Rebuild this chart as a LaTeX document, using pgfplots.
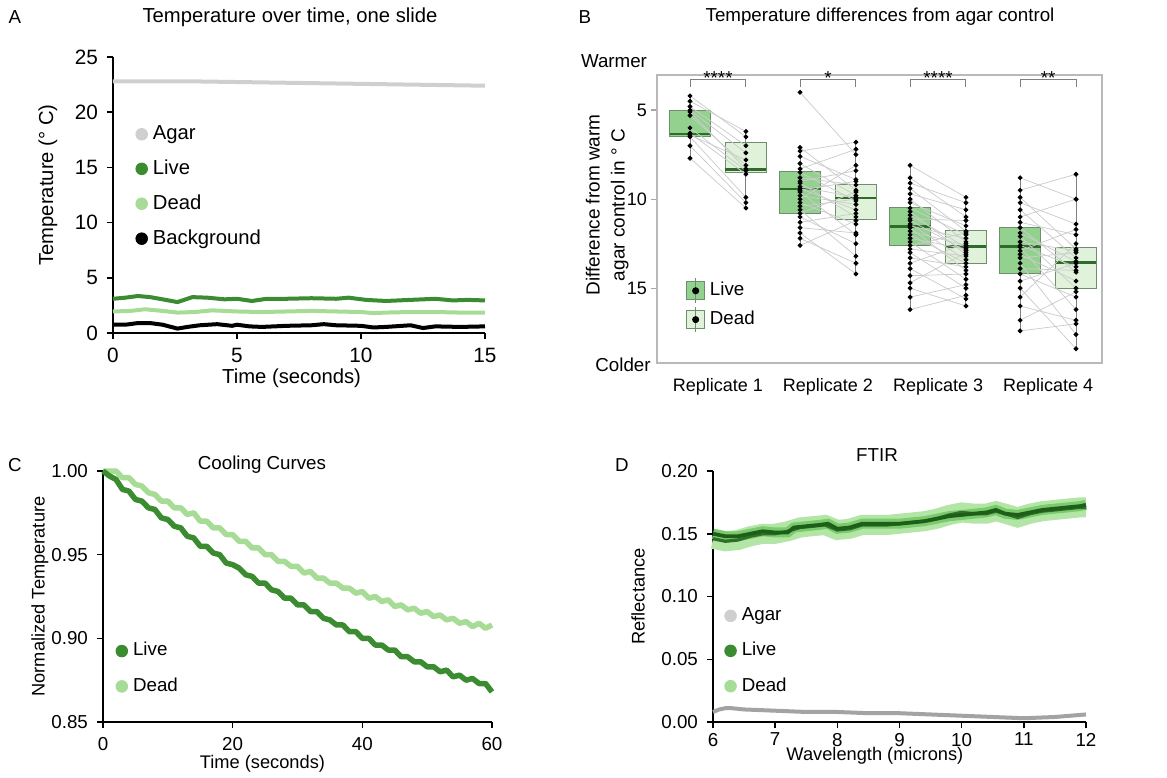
\documentclass[border=0pt]{standalone}
\usepackage{fontspec}
\setmainfont{Liberation Sans}
\usepackage{pgfplots}
\usepackage{pgfplotstable}
\pgfplotsset{compat=1.18}
\usepgfplotslibrary{statistics}

\definecolor{agar}{HTML}{CFCFCF}
\definecolor{agardark}{HTML}{A3A3A3}
\definecolor{live}{HTML}{3B8C30}
\definecolor{dead}{HTML}{A6DC95}
\definecolor{livebox}{HTML}{92D28E}
\definecolor{deadbox}{HTML}{E0F2DA}
\definecolor{boxedge}{HTML}{6E8F6B}
\definecolor{medgreen}{HTML}{2F6B2A}
\definecolor{ftirlive}{HTML}{1F5E1A}
\definecolor{ftirdead}{HTML}{B3E6A6}
\definecolor{ftirband}{HTML}{7ACB6C}

\newcommand{\sz}{\fontsize{7.5}{9}\selectfont}
\newcommand{\szb}{\fontsize{8.1}{9.7}\selectfont}
\newcommand{\szs}{\fontsize{7.2}{8.6}\selectfont}

\pgfplotsset{
  panel/.style={
    scale only axis, anchor=south west, clip=false,
    axis lines*=left, axis line style={black, line width=0.6pt, -},
    tick align=outside, tick pos=left,
    tick style={black, line width=0.6pt}, major tick length=2.5pt,
    ticklabel style={font=\sz},
    /pgf/number format/assume math mode=true,
    legend style={draw=none, fill=none, font=\sz, legend cell align=left,
      row sep=3.2pt, inner sep=0pt},
  },
  dotleg/.style={legend image code/.code={\fill[#1] (3pt,0pt) circle (2.3pt);}},
}

% paired temperatures per replicate (live, dead)
\pgfplotstableread{
r l d
1 4.2 6.5
1 4.5 6.2
1 4.8 7.0
1 5.0 7.4
1 5.1 8.3
1 5.3 8.1
1 6.0 8.4
1 6.3 8.6
1 6.4 7.8
1 6.5 9.9
1 7.0 10.2
1 7.7 10.5
2 4.0 7.5
2 7.1 9.5
2 7.3 6.8
2 7.6 8.9
2 8.0 9.8
2 8.3 7.2
2 8.5 10.1
2 8.8 9.2
2 9.0 8.4
2 9.1 11.0
2 9.3 9.9
2 9.4 10.6
2 9.5 9.0
2 9.6 12.0
2 9.8 10.3
2 10.0 8.1
2 10.2 11.4
2 10.4 10.0
2 10.6 13.2
2 10.8 9.6
2 11.0 12.5
2 11.3 10.8
2 11.6 11.9
2 11.9 14.2
2 12.2 13.6
2 12.6 11.2
3 8.1 9.9
3 8.8 11.0
3 9.1 10.2
3 9.4 11.8
3 9.7 10.6
3 10.0 12.4
3 10.2 11.5
3 10.5 12.0
3 10.7 13.1
3 10.9 12.7
3 11.1 11.2
3 11.2 12.9
3 11.4 13.4
3 11.5 12.2
3 11.6 14.0
3 11.8 12.6
3 12.0 13.6
3 12.2 12.8
3 12.4 14.5
3 12.6 11.9
3 12.8 13.2
3 13.0 15.0
3 13.3 13.8
3 13.6 12.5
3 13.9 15.6
3 14.3 14.2
3 14.7 13.0
3 15.0 16.0
3 15.5 14.8
3 16.2 15.4
4 8.8 10.0
4 9.5 8.6
4 9.9 12.8
4 10.2 11.4
4 10.6 13.3
4 11.0 10.0
4 11.3 12.0
4 11.6 14.1
4 11.9 13.5
4 12.1 15.0
4 12.4 12.9
4 12.6 13.8
4 12.7 16.2
4 12.9 11.7
4 13.1 14.6
4 13.3 13.0
4 13.6 17.6
4 13.9 14.0
4 14.2 15.5
4 14.6 13.6
4 15.0 18.4
4 15.5 12.5
4 16.0 16.8
4 16.8 15.2
4 17.4 17.0
}\pairs

\begin{document}
\begin{tikzpicture}
\useasboundingbox (0pt,0pt) rectangle (466.8pt,311.2pt);

% ---------------- A ----------------
\begin{axis}[panel, at={(45.2pt,178pt)}, width=148.8pt, height=110.4pt,
  xmin=0, xmax=15, ymin=0, ymax=25,
  xtick={0,5,10,15}, ytick={0,5,10,15,20,25},
  ticklabel style={font=\fontsize{8.3}{10}\selectfont},
  xlabel={Time (seconds)}, ylabel={Temperature (° C)},
  every axis x label/.style={at={(axis description cs:0.48,-0.165)}, anchor=center, font=\szb},
  every axis y label/.style={at={(axis description cs:-0.175,0.536)}, rotate=90, anchor=center, font=\szb},
  legend style={at={(0.059,0.772)}, anchor=north west, font=\szb, row sep=2.6pt},
]
\addlegendimage{dotleg=agar}\addlegendentry{Agar}
\addlegendimage{dotleg=live}\addlegendentry{Live}
\addlegendimage{dotleg=dead}\addlegendentry{Dead}
\addlegendimage{dotleg=black}\addlegendentry{Background}
\addplot[agar, line width=1.6pt] coordinates {(0,22.8)(3,22.8)(6,22.7)(9,22.6)(12,22.5)(15,22.4)};
\addplot[dead, line width=1.6pt] coordinates {(0,1.95)(0.7,2.0)(1.3,2.15)(2,2.0)(2.6,1.85)(3.3,1.9)(4,2.05)(5,1.95)(6,1.9)(7,1.95)(8,2.0)(9,1.95)(10,1.9)(10.5,1.8)(11,1.85)(12,1.9)(13,1.9)(14,1.85)(15,1.85)};
\addplot[live, line width=1.6pt] coordinates {(0,3.1)(0.5,3.2)(1,3.35)(1.5,3.25)(2,3.05)(2.6,2.8)(3.2,3.25)(3.8,3.2)(4.5,3.05)(5,3.1)(5.6,2.9)(6.2,3.1)(7,3.1)(8,3.15)(9,3.1)(9.5,3.2)(10.2,3.0)(11,2.9)(12,3.0)(13,3.1)(13.7,2.95)(14.3,3.0)(15,2.95)};
\addplot[black, line width=1.6pt] coordinates {(0,0.75)(0.5,0.75)(1,0.9)(1.5,0.9)(2,0.75)(2.6,0.4)(3,0.55)(3.5,0.7)(4.2,0.8)(4.8,0.65)(5,0.75)(5.5,0.6)(6,0.55)(7,0.65)(8,0.7)(8.5,0.8)(9,0.7)(10,0.65)(10.5,0.5)(11,0.55)(12,0.7)(12.5,0.45)(13,0.6)(14,0.55)(15,0.6)};
\end{axis}

% ---------------- B ----------------
\begin{axis}[panel, at={(262.8pt,166pt)}, width=178pt, height=115.2pt,
  axis lines*=box, axis line style={gray!55, line width=0.5pt},
  xmin=0.446, xmax=4.49, ymin=3.03, ymax=19.2, y dir=reverse,
  xtick={1,2,3,4}, xticklabels={Replicate 1,Replicate 2,Replicate 3,Replicate 4},
  ticklabel style={font=\szs},
  major x tick style={draw=none},
  extra x ticks={0.746,1.254,1.746,2.254,2.746,3.254,3.746,4.254},
  extra x tick labels={}, extra x tick style={tick style={gray!70, line width=0.5pt}},
  ytick={5,10,15}, tick style={gray!70, line width=0.5pt},
  yticklabel style={xshift=2pt},
  ylabel={Difference from warm\\agar control in ° C},
  every axis y label/.style={at={(axis description cs:-0.112,0.549)}, rotate=90, anchor=center, align=center, font=\fontsize{7.6}{10}\selectfont},
  boxplot/draw direction=y, boxplot/whisker extend=0,
  boxplot/every whisker/.style={gray, line width=0.4pt},
  boxplot/every median/.style={medgreen, line width=0.9pt},
  legend style={at={(0.065,0.30)}, anchor=north west, row sep=0.6pt},
]
\addlegendimage{legend image code/.code={\draw[boxedge, fill=livebox] (0pt,-3.6pt) rectangle (7pt,3.6pt); \draw[boxedge] (3.5pt,-5pt)--(3.5pt,5pt); \fill (3.5pt,0pt) circle (1.2pt);}}\addlegendentry{Live}
\addlegendimage{legend image code/.code={\draw[boxedge, fill=deadbox] (0pt,-3.6pt) rectangle (7pt,3.6pt); \draw[boxedge] (3.5pt,-5pt)--(3.5pt,5pt); \fill (3.5pt,0pt) circle (1.2pt);}}\addlegendentry{Dead}
\addplot[boxplot prepared={draw position=0.746, box extend=0.372, lower whisker=4.16, lower quartile=5.0, median=6.36, upper quartile=6.5, upper whisker=7.7}, draw=boxedge, fill=livebox] coordinates {};
\addplot[boxplot prepared={draw position=1.254, box extend=0.372, lower whisker=6.2, lower quartile=6.81, median=8.33, upper quartile=8.51, upper whisker=10.5}, draw=boxedge, fill=deadbox] coordinates {};
\addplot[boxplot prepared={draw position=1.746, box extend=0.372, lower whisker=7.06, lower quartile=8.42, median=9.45, upper quartile=10.83, upper whisker=12.66}, draw=boxedge, fill=livebox] coordinates {};
\addplot[boxplot prepared={draw position=2.254, box extend=0.372, lower whisker=6.78, lower quartile=9.15, median=9.95, upper quartile=11.13, upper whisker=14.2}, draw=boxedge, fill=deadbox] coordinates {};
\addplot[boxplot prepared={draw position=2.746, box extend=0.372, lower whisker=8.08, lower quartile=10.46, median=11.54, upper quartile=12.63, upper whisker=16.18}, draw=boxedge, fill=livebox] coordinates {};
\addplot[boxplot prepared={draw position=3.254, box extend=0.372, lower whisker=9.9, lower quartile=11.77, median=12.66, upper quartile=13.6, upper whisker=15.99}, draw=boxedge, fill=deadbox] coordinates {};
\addplot[boxplot prepared={draw position=3.746, box extend=0.372, lower whisker=8.78, lower quartile=11.58, median=12.66, upper quartile=14.2, upper whisker=17.37}, draw=boxedge, fill=livebox] coordinates {};
\addplot[boxplot prepared={draw position=4.254, box extend=0.372, lower whisker=8.64, lower quartile=12.7, median=13.56, upper quartile=15.0, upper whisker=18.36}, draw=boxedge, fill=deadbox] coordinates {};
\addplot[gray!40, line width=0.3pt, quiver={u=0.508, v=\thisrow{d}-\thisrow{l}}] table[x expr=\thisrow{r}-0.254, y=l] {\pairs};
\addplot[only marks, mark=*, mark size=0.75pt, black] table[x expr=\thisrow{r}-0.254, y=l] {\pairs};
\addplot[only marks, mark=*, mark size=0.75pt, black] table[x expr=\thisrow{r}+0.254, y=d] {\pairs};
% significance brackets
\draw[gray, line width=0.4pt] (axis cs:0.746,3.73) |- (axis cs:1.254,3.28) -- (axis cs:1.254,3.73);
\draw[gray, line width=0.4pt] (axis cs:1.746,3.73) |- (axis cs:2.254,3.28) -- (axis cs:2.254,3.73);
\draw[gray, line width=0.4pt] (axis cs:2.746,3.73) |- (axis cs:3.254,3.28) -- (axis cs:3.254,3.73);
\draw[gray, line width=0.4pt] (axis cs:3.746,3.73) |- (axis cs:4.254,3.28) -- (axis cs:4.254,3.73);
\node[font=\sz, anchor=south, inner sep=0pt, yshift=-2.2pt] at (axis cs:1,3.28) {****};
\node[font=\sz, anchor=south, inner sep=0pt, yshift=-2.2pt] at (axis cs:2,3.28) {*};
\node[font=\sz, anchor=south, inner sep=0pt, yshift=-2.2pt] at (axis cs:3,3.28) {****};
\node[font=\sz, anchor=south, inner sep=0pt, yshift=-2.2pt] at (axis cs:4,3.28) {**};
\end{axis}

% ---------------- C ----------------
\begin{axis}[panel, at={(41.2pt,22.4pt)}, width=155.6pt, height=100.4pt,
  xmin=0, xmax=60, ymin=0.85, ymax=1.00,
  xtick={0,20,40,60}, ytick={0.85,0.90,0.95,1.00},
  yticklabel style={/pgf/number format/.cd, fixed, fixed zerofill, precision=2},
  xlabel={Time (seconds)}, ylabel={Normalized Temperature},
  every axis x label/.style={at={(axis description cs:0.41,-0.165)}, anchor=center, font=\fontsize{7.3}{8.8}\selectfont},
  every axis y label/.style={at={(axis description cs:-0.162,0.5)}, rotate=90, anchor=center, font=\fontsize{7.3}{8.8}\selectfont},
  legend style={at={(0.031,0.339)}, anchor=north west},
]
\addlegendimage{dotleg=live}\addlegendentry{Live}
\addlegendimage{dotleg=dead}\addlegendentry{Dead}
\addplot[dead, line width=2.2pt, line join=round] coordinates {
(0,1.000)(1,1.000)(2,1.000)(3,0.996)(4,0.996)(5,0.992)(6,0.991)(7,0.987)(8,0.986)(9,0.982)
(10,0.982)(11,0.978)(12,0.978)(13,0.974)(14,0.975)(15,0.970)(16,0.970)(17,0.966)(18,0.966)(19,0.962)
(20,0.962)(21,0.958)(22,0.958)(23,0.954)(24,0.954)(25,0.950)(26,0.950)(27,0.946)(28,0.946)(29,0.943)
(30,0.943)(31,0.939)(32,0.940)(33,0.936)(34,0.936)(35,0.933)(36,0.933)(37,0.930)(38,0.930)(39,0.927)
(40,0.928)(41,0.924)(42,0.925)(43,0.922)(44,0.923)(45,0.919)(46,0.920)(47,0.917)(48,0.918)(49,0.915)
(50,0.916)(51,0.913)(52,0.914)(53,0.911)(54,0.912)(55,0.909)(56,0.910)(57,0.907)(58,0.909)(59,0.906)
(60,0.908)};
\addplot[live, line width=2.2pt, line join=round] coordinates {
(0,1.000)(1,0.997)(2,0.995)(3,0.989)(4,0.988)(5,0.983)(6,0.982)(7,0.978)(8,0.977)(9,0.972)
(10,0.971)(11,0.967)(12,0.966)(13,0.961)(14,0.960)(15,0.955)(16,0.955)(17,0.951)(18,0.950)(19,0.945)
(20,0.944)(21,0.942)(22,0.938)(23,0.937)(24,0.933)(25,0.933)(26,0.929)(27,0.928)(28,0.924)(29,0.924)
(30,0.920)(31,0.920)(32,0.916)(33,0.916)(34,0.912)(35,0.911)(36,0.908)(37,0.908)(38,0.904)(39,0.904)
(40,0.900)(41,0.900)(42,0.896)(43,0.896)(44,0.893)(45,0.893)(46,0.889)(47,0.889)(48,0.886)(49,0.886)
(50,0.883)(51,0.883)(52,0.880)(53,0.881)(54,0.877)(55,0.878)(56,0.875)(57,0.876)(58,0.873)(59,0.873)
(60,0.868)};
\end{axis}

% ---------------- D ----------------
\begin{axis}[panel, at={(285.2pt,22.4pt)}, width=149.2pt, height=100.4pt,
  xmin=6, xmax=12, ymin=0, ymax=0.20,
  xtick={6,7,8,9,10,11,12}, ytick={0,0.05,0.10,0.15,0.20},
  xticklabel style={yshift=1.6pt},
  yticklabel style={/pgf/number format/.cd, fixed, fixed zerofill, precision=2},
  xlabel={Wavelength (microns)}, ylabel={Reflectance},
  every axis x label/.style={at={(axis description cs:0.434,-0.135)}, anchor=center, font=\fontsize{7.3}{8.8}\selectfont},
  every axis y label/.style={at={(axis description cs:-0.201,0.5)}, rotate=90, anchor=center, font=\fontsize{7.3}{8.8}\selectfont},
  legend style={at={(0.029,0.478)}, anchor=north west},
]
\addlegendimage{dotleg=agar}\addlegendentry{Agar}
\addlegendimage{dotleg=live}\addlegendentry{Live}
\addlegendimage{dotleg=dead}\addlegendentry{Dead}
\addplot[ftirdead, line width=8pt] coordinates {(6,0.146)(6.2,0.144)(6.4,0.145)(6.6,0.148)(6.8,0.150)(7.0,0.150)(7.2,0.152)(7.4,0.155)(7.6,0.156)(7.8,0.157)(8.0,0.153)(8.2,0.154)(8.4,0.157)(8.6,0.157)(8.8,0.157)(9.0,0.158)(9.2,0.159)(9.4,0.160)(9.6,0.162)(9.8,0.165)(10.0,0.167)(10.2,0.166)(10.4,0.166)(10.55,0.168)(10.7,0.166)(10.9,0.163)(11.1,0.166)(11.3,0.168)(11.5,0.169)(11.7,0.170)(11.9,0.171)(12.0,0.171)};
\addplot[ftirband, line width=4pt] coordinates {(6,0.150)(6.2,0.148)(6.4,0.148)(6.6,0.150)(6.8,0.152)(7.0,0.151)(7.2,0.151)(7.3,0.155)(7.5,0.156)(7.7,0.157)(7.85,0.158)(8.0,0.154)(8.2,0.155)(8.4,0.158)(8.6,0.158)(8.8,0.158)(9.0,0.158)(9.2,0.159)(9.4,0.160)(9.6,0.162)(9.8,0.164)(10.0,0.165)(10.2,0.166)(10.4,0.167)(10.55,0.169)(10.7,0.166)(10.9,0.165)(11.1,0.167)(11.3,0.169)(11.5,0.170)(11.7,0.171)(11.9,0.172)(12.0,0.173)};
\addplot[live!80!black, line width=1.3pt] coordinates {(6,0.146)(6.2,0.144)(6.4,0.145)(6.6,0.148)(6.8,0.150)(7.0,0.150)(7.2,0.152)(7.4,0.155)(7.6,0.156)(7.8,0.157)(8.0,0.153)(8.2,0.154)(8.4,0.157)(8.6,0.157)(8.8,0.157)(9.0,0.158)(9.2,0.159)(9.4,0.160)(9.6,0.162)(9.8,0.165)(10.0,0.167)(10.2,0.166)(10.4,0.166)(10.55,0.168)(10.7,0.166)(10.9,0.163)(11.1,0.166)(11.3,0.168)(11.5,0.169)(11.7,0.170)(11.9,0.171)(12.0,0.171)};
\addplot[ftirlive, line width=1.5pt] coordinates {(6,0.150)(6.2,0.148)(6.4,0.148)(6.6,0.150)(6.8,0.152)(7.0,0.151)(7.2,0.151)(7.3,0.155)(7.5,0.156)(7.7,0.157)(7.85,0.158)(8.0,0.154)(8.2,0.155)(8.4,0.158)(8.6,0.158)(8.8,0.158)(9.0,0.158)(9.2,0.159)(9.4,0.160)(9.6,0.162)(9.8,0.164)(10.0,0.165)(10.2,0.166)(10.4,0.167)(10.55,0.169)(10.7,0.166)(10.9,0.165)(11.1,0.167)(11.3,0.169)(11.5,0.170)(11.7,0.171)(11.9,0.172)(12.0,0.173)};
\addplot[agardark, line width=1.6pt] coordinates {(6,0.008)(6.1,0.010)(6.2,0.011)(6.3,0.011)(6.5,0.010)(7,0.009)(7.5,0.008)(8,0.008)(8.5,0.007)(9,0.007)(9.5,0.006)(10,0.005)(10.5,0.004)(11,0.003)(11.5,0.004)(12,0.006)};
\end{axis}

% panel letters, titles, annotations
\node[font=\sz] at (6pt,304.4pt) {A};
\node[font=\szb] at (116pt,304.4pt) {Temperature over time, one slide};
\node[font=\sz] at (234pt,304.4pt) {B};
\node[font=\sz] at (352pt,304.4pt) {Temperature differences from agar control};
\node[font=\sz] at (245.6pt,286.8pt) {Warmer};
\node[font=\sz] at (249.2pt,165.2pt) {Colder};
\node[font=\sz] at (6pt,125.2pt) {C};
\node[font=\sz] at (104.8pt,125.2pt) {Cooling Curves};
\node[font=\sz] at (248.8pt,125.2pt) {D};
\node[font=\sz] at (350.8pt,129.2pt) {FTIR};
\end{tikzpicture}
\end{document}
